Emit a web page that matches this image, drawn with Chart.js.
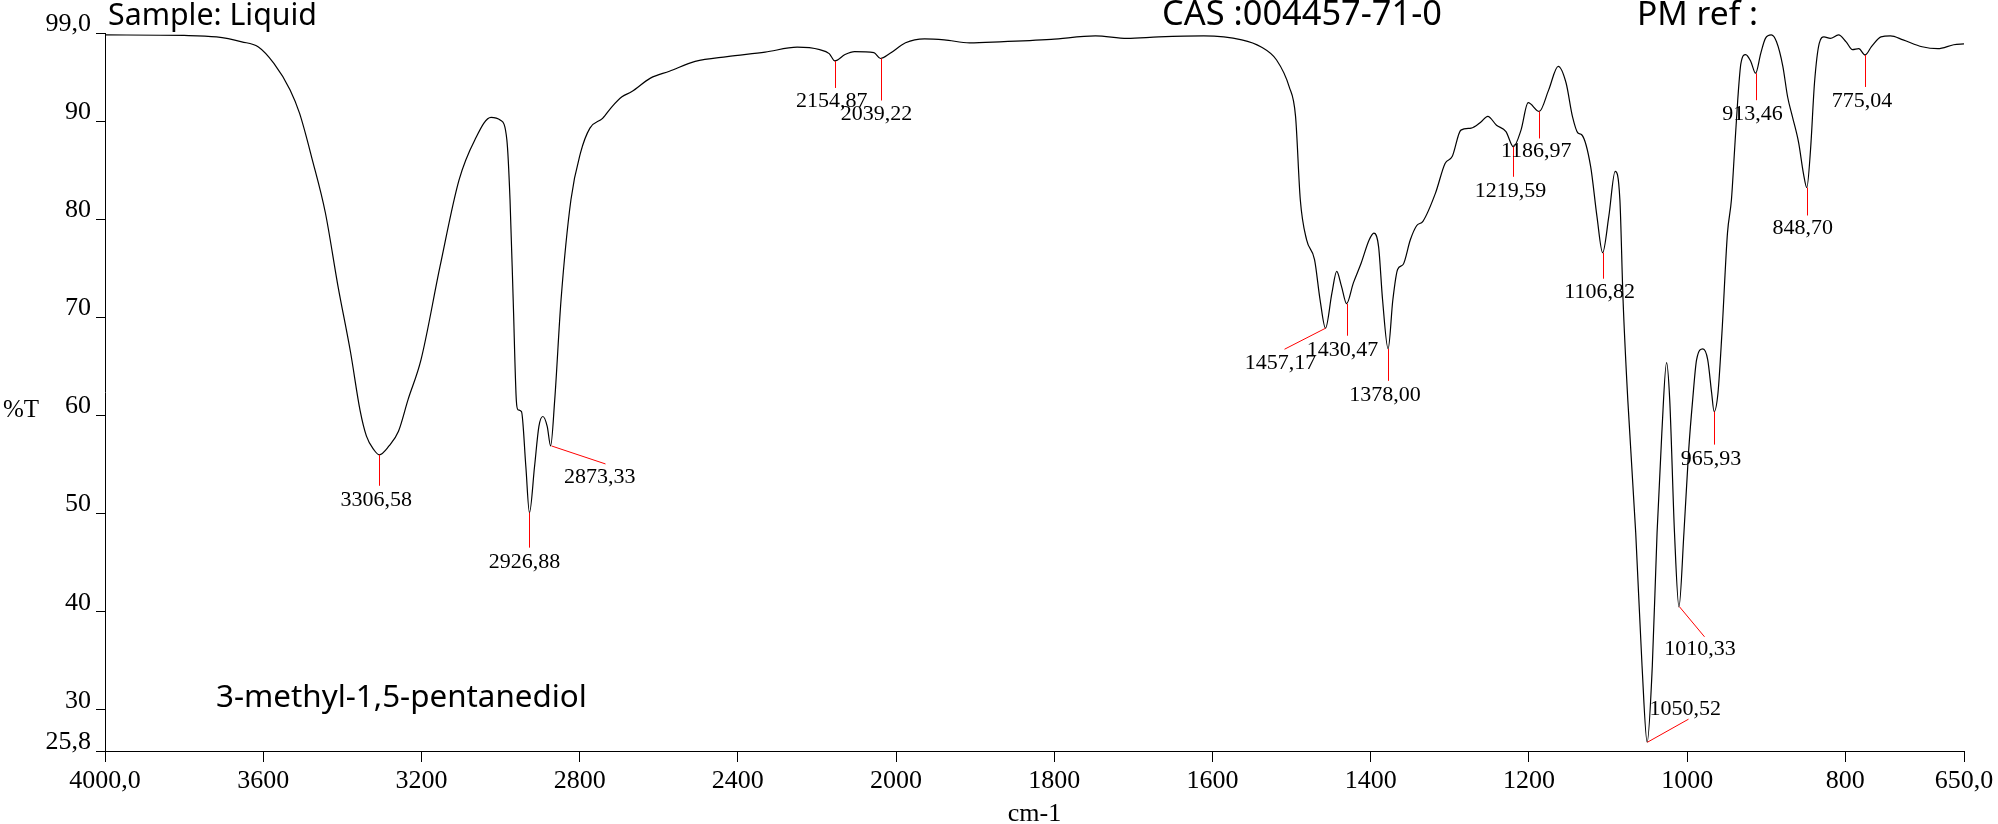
<!DOCTYPE html>
<html>
<head>
<meta charset="utf-8">
<script src="https://cdn.jsdelivr.net/npm/chart.js@4.4.1/dist/chart.umd.min.js"></script>
<style>
html,body{margin:0;padding:0;background:#fff;}
canvas{display:block;}
</style>
</head>
<body>
<canvas id="c" width="1998" height="824"></canvas>
<script>
// ---------- DATA ----------
const wavenumbers = [
4000,3800,3718,3654,3613,3573,3532,3508,3476,3443,3411,3379,3355,3339,3320,3306.58,3282,3258,3234,3201,
3153,3105,3065,3024,3000,2984,2976,2968,2960,2956,2947,2936,2926.88,2914,2903,2893,2882,2873.33,2863,2847,
2822,2798,2774,2742,2718,2693,2669,2621,2573,2508,2427,2331,2250,2193,2169,2154.87,2129,2105,2056,2039.22,
2016,1988,1964,1939,1907,1869,1804,1748,1708,1668,1611,1563,1539,1519,1503,1495,1489,1481,1471,1464,
1457.17,1449,1443,1437,1430.47,1422,1412,1402,1396,1390,1385,1378,1372,1366,1359,1350,1342,1334,1318,1306,
1297,1286,1273,1261,1252,1241,1229,1219.59,1210,1201,1186.97,1175,1163,1153,1145,1138,1133,1122,1114,1106.82,
1099,1091,1085,1081,1075,1065,1057,1050.52,1044,1038,1032,1026,1022,1016,1010.33,1004,998,993,988,980,
974,969,965.93,961,956,949,944,940,936,932,926,919.5,913.46,907,901,893.6,887,879,873,867,
859,853,848.7,844,839,833,827,819,808.6,799,791,783,775.04,767,755,743,727,703,683,663,650
];
const transmittance = [
98.8,98.75,98.6,98.1,97.6,95.9,93.2,90.8,86.1,80.7,73.2,66.4,60.5,57.9,56.5,56.0,56.9,58.4,61.6,65.7,
75.2,84.0,88.1,90.4,90.1,88.1,82.0,71.8,61.5,60.6,60.4,54.8,50.1,54.8,58.9,59.9,58.9,56.9,61.6,71.8,
82.0,86.75,89.3,90.3,91.5,92.5,93.0,94.4,95.1,96.1,96.6,97.05,97.55,97.3,96.9,96.15,96.8,97.1,97.0,96.4,
96.9,98.0,98.4,98.3,98.0,98.1,98.35,98.7,98.45,98.6,98.7,98.3,97.6,96.25,93.5,90.5,82.0,77.9,75.9,71.8,
68.9,72.5,74.7,73.2,71.4,73.5,75.55,77.9,78.6,77.2,71.8,66.8,71.8,74.9,75.4,77.9,79.35,79.8,82.7,85.7,
86.4,89.1,89.3,89.9,90.5,89.6,88.95,87.4,89.1,91.9,91.0,93.2,95.6,93.9,90.5,88.8,88.6,85.4,80.3,76.6,
80.3,84.9,82.0,71.8,61.6,48.05,34.5,26.7,34.5,48.05,58.2,65.4,61.6,48.1,40.5,48.1,56.5,61.6,65.7,66.8,
65.7,62.3,60.4,62.3,68.4,78.6,82.0,87.1,92.2,95.9,96.8,96.1,94.9,96.9,98.45,98.8,98.1,95.6,92.5,90.5,
87.8,84.7,83.25,87.1,93.9,97.95,98.6,98.45,98.8,98.1,97.3,97.4,96.76,97.6,98.6,98.7,98.3,97.6,97.4,97.8,97.9
];
const xTickValues = [4000,3600,3200,2800,2400,2000,1800,1600,1400,1200,1000,800,650];
const xTickLabels = ['4000,0','3600','3200','2800','2400','2000','1800','1600','1400','1200','1000','800','650,0'];
const yTickValues = [25.8,30,40,50,60,70,80,90,99];
const yTickLabels = ['25,8','30','40','50','60','70','80','90','99,0'];
const peakWavenumbers = [3306.58,2926.88,2873.33,2154.87,2039.22,1457.17,1430.47,1378.00,1219.59,1186.97,1106.82,1050.52,1010.33,965.93,913.46,848.70,775.04];
const peakTransmittance = [56.0,50.1,56.9,96.15,96.4,68.9,71.4,66.8,87.4,91.0,76.6,26.7,40.5,60.4,94.9,83.25,96.76];
const titleTexts = ['Sample: Liquid','CAS :004457-71-0','PM ref :'];
const sampleName = '3-methyl-1,5-pentanediol';
const yAxisTitle = '%T';
const xAxisTitle = 'cm-1';

// ---------- LAYOUT (pixels, not data) ----------
// per peak: [line end dx, line end dy, label center dx, label center dy]
const peakLabelLayout = [
  [0,31,-3,44],[0,35,-5,48],[54,18,49,30],[0,27,-3,39],[0,42,-4,54],
  [-41,21,-45,34],[0,32,-4,45],[0,32,-3,45],[0,30,-3,43],[0,27,-3,39],
  [0,26,-3,38],[41,-23,38,-34],[25,30,21,41],[0,33,-3,46],[0,27,-3,40],
  [0,28,-4,40],[0,32,-3,45]
];

// broken wavenumber axis: 4000-2000 compressed by 2 relative to 2000-650
function toAxis(w){ return w >= 2000 ? (4000 - w) / 2 : 1000 + (2000 - w); }

const points = wavenumbers.map((w,i)=>({x: toAxis(w), y: transmittance[i]}));

const serif = '"Liberation Serif", "Times New Roman", serif';
const comic = '"Noto Sans", "DejaVu Sans", sans-serif';

function fitText(ctx, text, left, baseline, width, family){
  ctx.font = '100px ' + family;
  const w = ctx.measureText(text).width;
  const size = 100 * width / w;
  ctx.font = size.toFixed(2) + 'px ' + family;
  ctx.textAlign = 'left';
  ctx.textBaseline = 'alphabetic';
  ctx.fillText(text, left, baseline);
}

const extras = {
  id: 'extras',
  afterDraw(chart){
    const ctx = chart.ctx, xs = chart.scales.x, ys = chart.scales.y;
    ctx.save();
    peakWavenumbers.forEach((w,i)=>{
      const px = xs.getPixelForValue(toAxis(w));
      const py = ys.getPixelForValue(peakTransmittance[i]);
      const L = peakLabelLayout[i];
      ctx.strokeStyle = '#ff0000';
      ctx.lineWidth = 1;
      ctx.beginPath();
      ctx.moveTo(Math.round(px)+0.5, py);
      ctx.lineTo(Math.round(px+L[0])+0.5, py+L[1]);
      ctx.stroke();
      ctx.fillStyle = '#000';
      ctx.font = '22px ' + serif;
      ctx.textAlign = 'center';
      ctx.textBaseline = 'alphabetic';
      ctx.fillText(w.toFixed(2).replace('.', ','), px + L[2], py + L[3] + 7);
    });
    ctx.fillStyle = '#000';
    fitText(ctx, titleTexts[0], 108, 25, 209, comic);
    fitText(ctx, titleTexts[1], 1162, 25, 280, comic);
    fitText(ctx, titleTexts[2], 1637, 25, 121, comic);
    fitText(ctx, sampleName, 216, 707, 371, comic);
    ctx.font = '25px ' + serif;
    ctx.textAlign = 'left';
    ctx.textBaseline = 'alphabetic';
    ctx.fillText(yAxisTitle, 3, 417);
    ctx.textAlign = 'center';
    ctx.font = '26px ' + serif;
    ctx.fillText(xAxisTitle, (xs.left + xs.right)/2, 821);
    ctx.restore();
  }
};

new Chart(document.getElementById('c'), {
  type: 'line',
  data: {
    datasets: [{
      data: points,
      borderColor: '#000',
      borderWidth: 1.2,
      pointRadius: 0,
      fill: false,
      cubicInterpolationMode: 'monotone'
    }]
  },
  options: {
    responsive: false,
    devicePixelRatio: 1,
    animation: false,
    parsing: false,
    layout: { padding: { left: 0, right: 34, top: 33, bottom: 0 } },
    plugins: { legend: { display: false }, tooltip: { enabled: false }, title: { display: false } },
    scales: {
      x: {
        type: 'linear',
        min: 0,
        max: toAxis(650),
        afterBuildTicks: s => { s.ticks = xTickValues.map(w => ({ value: toAxis(w) })); },
        afterFit: s => { s.height = 73; },
        ticks: {
          autoSkip: false, maxRotation: 0, minRotation: 0,
          padding: 4,
          color: '#000',
          font: { family: serif, size: 26 },
          callback: (v, i) => xTickLabels[i]
        },
        grid: { display: true, drawOnChartArea: false, drawTicks: true, tickLength: 11, color: '#000', tickColor: '#000', tickWidth: 1 },
        border: { display: true, color: '#000', width: 1 }
      },
      y: {
        type: 'linear',
        min: 25.8,
        max: 99,
        afterBuildTicks: s => { s.ticks = yTickValues.map(v => ({ value: v })); },
        afterFit: s => { s.width = 105; },
        ticks: {
          autoSkip: false,
          padding: 5,
          labelOffset: -9,
          color: '#000',
          font: { family: serif, size: 26 },
          callback: (v, i) => yTickLabels[i]
        },
        grid: { display: true, drawOnChartArea: false, drawTicks: true, tickLength: 9, color: '#000', tickColor: '#000', tickWidth: 1 },
        border: { display: true, color: '#000', width: 1 }
      }
    }
  },
  plugins: [extras]
});
</script>
</body>
</html>
